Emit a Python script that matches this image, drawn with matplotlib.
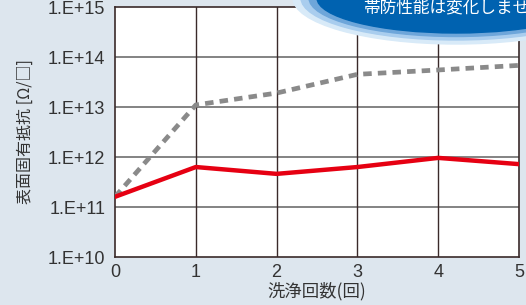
import matplotlib.pyplot as plt
from matplotlib.patches import Ellipse

plt.rcParams['font.family'] = ['Liberation Sans', 'Noto Sans CJK JP', 'DejaVu Sans']
jp = ['Noto Sans CJK JP', 'DejaVu Sans']

# wash cycles and surface resistivity values
washes = [0, 1, 2, 3, 4, 5]
treated = [1.6e11, 6.3e11, 4.6e11, 6.3e11, 9.6e11, 7.2e11]
untreated = [1.6e11, 1.1e13, 1.9e13, 4.5e13, 5.5e13, 6.8e13]
ytick_vals = [1e10, 1e11, 1e12, 1e13, 1e14, 1e15]
ytick_labels = ['1.E+10', '1.E+11', '1.E+12', '1.E+13', '1.E+14', '1.E+15']

fig = plt.figure(figsize=(5.26, 3.05), dpi=100)
fig.patch.set_facecolor('#dde6ee')
ax = fig.add_axes([115 / 526, 48 / 305, 404 / 526, 250 / 305])
ax.set_facecolor('white')

ax.plot(washes, untreated, color='#8a8a8a', lw=3.4, linestyle=(0, (1.8, 1.3)), zorder=3)
ax.plot(washes, treated, color='#e60012', lw=3.2, zorder=4)

ax.set_yscale('log')
ax.set_ylim(1e10, 1e15)
ax.set_xlim(0, 5)
ax.set_yticks(ytick_vals)
ax.set_yticklabels(ytick_labels)
ax.minorticks_off()
ax.set_xticks(washes)
ax.tick_params(axis='both', length=0, labelsize=13, colors='#333333')
ax.tick_params(axis='y', pad=7)
ax.tick_params(axis='x', pad=5)

for v in ytick_vals[1:-1]:
    ax.axhline(v, color='#7a7a7a', lw=1.3, zorder=1)
for w in washes[1:-1]:
    ax.axvline(w, color='#3a2a2a', lw=1.0, zorder=1)
for s in ax.spines.values():
    s.set_color('#3a2a2a')
    s.set_linewidth(1.2)

ax.set_xlabel('洗浄回数(回)', family=jp, fontsize=12.5, color='#333333', labelpad=1)
ax.set_ylabel('表面固有抵抗 [Ω/□]', family=jp, fontsize=11.5, color='#333333', labelpad=10)

# callout bubble in the top right corner
ov = fig.add_axes([0, 0, 1, 1], zorder=10)
ov.set_xlim(0, 526)
ov.set_ylim(305, 0)
ov.axis('off')
ov.patch.set_alpha(0)
for (w, h, c) in [(326, 92, '#d8eaf8'), (310, 84, '#a9cdee'), (294, 77, '#6ea6da'), (278, 70, '#0062b0')]:
    ov.add_patch(Ellipse((456, -2), w, h, color=c))
ov.text(363, 8, '帯防性能は変化しませ', family=jp, color='white', fontsize=12, va='center', ha='left')

plt.savefig('out.png', dpi=100, facecolor=fig.get_facecolor())
